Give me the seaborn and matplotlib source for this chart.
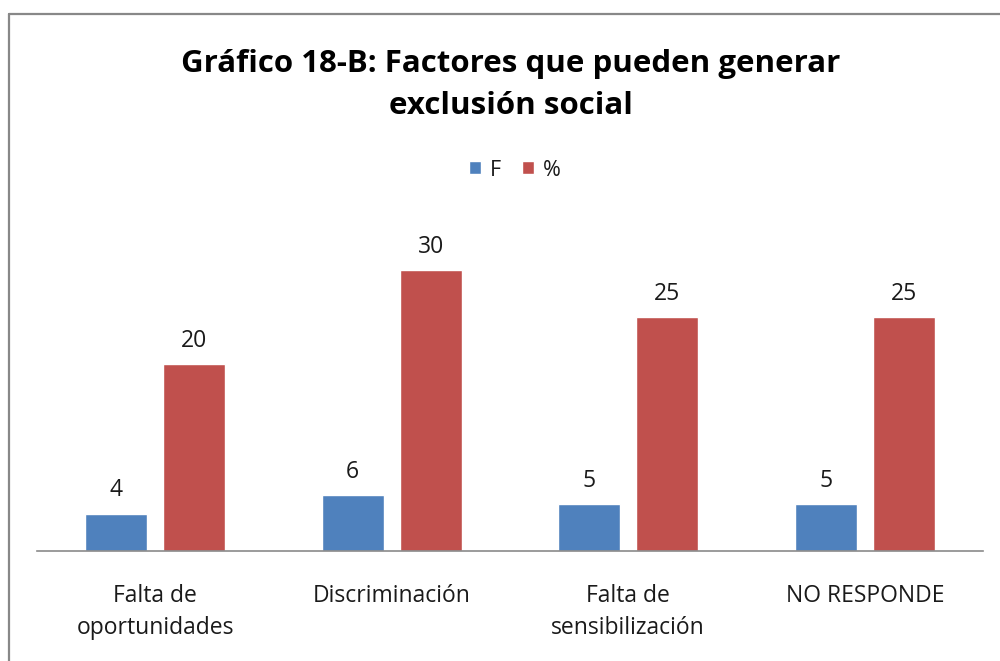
import pandas as pd
import matplotlib
matplotlib.use('Agg')
import matplotlib.pyplot as plt
import seaborn as sns
from matplotlib.lines import Line2D

# Data
categories = ['Falta de\noportunidades', 'Discriminación', 'Falta de\nsensibilización', 'NO RESPONDE']
freq = [4, 6, 5, 5]
pct = [20, 30, 25, 25]

data = pd.DataFrame({
    'categoria': categories * 2,
    'serie': ['F'] * 4 + ['%'] * 4,
    'valor': freq + pct,
})

sns.set_style('white')
plt.rcParams['font.family'] = ['Open Sans', 'DejaVu Sans']

fig = plt.figure(figsize=(10, 6.61), dpi=100)
ax = fig.add_axes([0.037, 1 - 551 / 661, 0.946, (551 - 200) / 661])

sns.barplot(data=data, x='categoria', y='valor', hue='serie',
            palette={'F': '#4F81BD', '%': '#C0504D'},
            width=0.66, gap=0.2, saturation=1, ax=ax, legend=True)

# value labels
for cont in ax.containers:
    ax.bar_label(cont, fmt='%g', padding=8, fontsize=16.5, color='#1a1a1a')

ax.set_ylim(0, 37.5)
ax.set_xlim(-0.5, 3.5)
ax.set_xlabel('')
ax.set_ylabel('')
ax.set_yticks([])
for s in ['left', 'right', 'top']:
    ax.spines[s].set_visible(False)
ax.spines['bottom'].set_color('#8a8a8a')
ax.spines['bottom'].set_linewidth(1.2)
ax.tick_params(axis='x', length=0, pad=24, labelsize=16.5, labelcolor='#1a1a1a')
for lbl in ax.get_xticklabels():
    lbl.set_linespacing(1.45)

# legend on top
leg = ax.legend(loc='center', bbox_to_anchor=(0.515, 1 - 170 / 661), bbox_transform=fig.transFigure,
                ncol=2, frameon=False, fontsize=15.5, handlelength=0.55, handleheight=0.55,
                handletextpad=0.4, columnspacing=1.0)
for t in leg.get_texts():
    t.set_color('#1a1a1a')

fig.text(0.511, 1 - 85 / 661, 'Gráfico 18-B: Factores que pueden generar\nexclusión social',
         ha='center', va='center', fontsize=22.5, fontweight='bold', linespacing=1.55, color='black')

# outer chart frame
frame_c = '#888888'
fig.add_artist(Line2D([0.009, 0.009], [0, 1 - 14 / 661], transform=fig.transFigure, color=frame_c, lw=1.6))
fig.add_artist(Line2D([0.009, 1.0], [1 - 14 / 661, 1 - 14 / 661], transform=fig.transFigure, color=frame_c, lw=1.6))

fig.savefig('out.png', dpi=100)
